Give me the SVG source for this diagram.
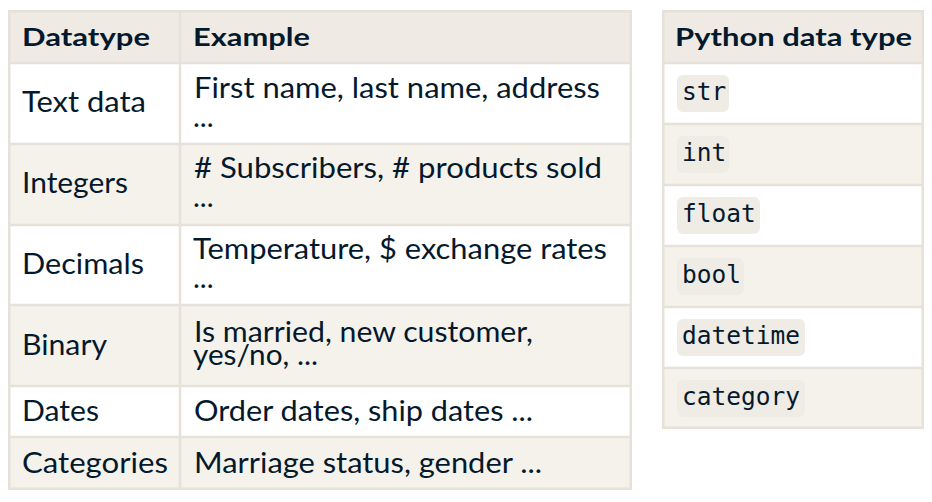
<svg xmlns="http://www.w3.org/2000/svg" width="932" height="502" viewBox="0 0 932 502">
<style>
.bg{fill:#ffffff}
.hd{fill:#efebe4}
.alt{fill:#f5f2ec}
.wh{fill:#ffffff}
.ln{stroke:#e6e2da;stroke-width:2.5;fill:none}
.th{font-family:Lato,"Liberation Sans",sans-serif;font-weight:700;font-size:25px;fill:#05192d}
.td{font-family:Lato,"Liberation Sans",sans-serif;font-weight:400;font-size:29px;fill:#05192d}
.chip{fill:#efebe5}
.code{font-family:"DejaVu Sans Mono","Liberation Mono",monospace;font-size:24.5px;fill:#05192d}
</style>
<rect class="bg" x="0" y="0" width="932" height="502"/>

<g id="table-datatypes">
  <g id="header-left">
    <rect class="hd" x="8" y="10" width="624" height="53"/>
    <text class="th" x="22" y="46" textLength="128" lengthAdjust="spacingAndGlyphs">Datatype</text>
    <text class="th" x="193" y="46" textLength="117" lengthAdjust="spacingAndGlyphs">Example</text>
  </g>
  <g id="row-text">
    <rect class="wh" x="8" y="63" width="624" height="81"/>
    <text class="td" x="22" y="112" textLength="124" lengthAdjust="spacingAndGlyphs">Text data</text>
    <text class="td" x="194" y="98" textLength="406" lengthAdjust="spacingAndGlyphs">First name, last name, address</text>
    <text class="td" x="193" y="127">...</text>
  </g>
  <g id="row-integers">
    <rect class="alt" x="8" y="144" width="624" height="81"/>
    <text class="td" x="22" y="193" textLength="106" lengthAdjust="spacingAndGlyphs">Integers</text>
    <text class="td" x="194" y="178" textLength="408" lengthAdjust="spacingAndGlyphs"># Subscribers, # products sold</text>
    <text class="td" x="193" y="207">...</text>
  </g>
  <g id="row-decimals">
    <rect class="wh" x="8" y="225" width="624" height="80"/>
    <text class="td" x="22" y="274" textLength="122" lengthAdjust="spacingAndGlyphs">Decimals</text>
    <text class="td" x="193" y="259" textLength="414" lengthAdjust="spacingAndGlyphs">Temperature, $ exchange rates</text>
    <text class="td" x="193" y="288">...</text>
  </g>
  <g id="row-binary">
    <rect class="alt" x="8" y="305" width="624" height="81"/>
    <text class="td" x="22" y="355" textLength="85" lengthAdjust="spacingAndGlyphs">Binary</text>
    <text class="td" x="194" y="342" textLength="339" lengthAdjust="spacingAndGlyphs">Is married, new customer,</text>
    <text class="td" x="193" y="365" textLength="125" lengthAdjust="spacingAndGlyphs">yes/no, ...</text>
  </g>
  <g id="row-dates">
    <rect class="wh" x="8" y="386" width="624" height="51"/>
    <text class="td" x="22" y="421" textLength="77" lengthAdjust="spacingAndGlyphs">Dates</text>
    <text class="td" x="194" y="421" textLength="339" lengthAdjust="spacingAndGlyphs">Order dates, ship dates ...</text>
  </g>
  <g id="row-categories">
    <rect class="alt" x="8" y="437" width="624" height="53"/>
    <text class="td" x="22" y="473" textLength="146" lengthAdjust="spacingAndGlyphs">Categories</text>
    <text class="td" x="194" y="473" textLength="348" lengthAdjust="spacingAndGlyphs">Marriage status, gender ...</text>
  </g>
  <g id="grid-left">
    <rect class="ln" x="9.25" y="11.25" width="621.5" height="477.5"/>
    <line class="ln" x1="180" y1="11" x2="180" y2="489"/>
    <line class="ln" x1="9" y1="63" x2="631" y2="63"/>
    <line class="ln" x1="9" y1="144" x2="631" y2="144"/>
    <line class="ln" x1="9" y1="225" x2="631" y2="225"/>
    <line class="ln" x1="9" y1="305" x2="631" y2="305"/>
    <line class="ln" x1="9" y1="386" x2="631" y2="386"/>
    <line class="ln" x1="9" y1="437" x2="631" y2="437"/>
  </g>
</g>

<g id="table-python">
  <g id="header-right">
    <rect class="hd" x="662" y="10" width="262" height="53"/>
    <text class="th" x="675" y="46" textLength="237" lengthAdjust="spacingAndGlyphs">Python data type</text>
  </g>
  <g id="row-str">
    <rect class="wh" x="662" y="63" width="262" height="61"/>
    <rect class="chip" x="677" y="75" width="52" height="37" rx="6"/>
    <text class="code" x="682" y="100">str</text>
  </g>
  <g id="row-int">
    <rect class="alt" x="662" y="124" width="262" height="61"/>
    <rect class="chip" x="677" y="136" width="52" height="37" rx="6"/>
    <text class="code" x="682" y="161">int</text>
  </g>
  <g id="row-float">
    <rect class="wh" x="662" y="185" width="262" height="61"/>
    <rect class="chip" x="677" y="197" width="83" height="37" rx="6"/>
    <text class="code" x="682" y="222">float</text>
  </g>
  <g id="row-bool">
    <rect class="alt" x="662" y="246" width="262" height="61"/>
    <rect class="chip" x="677" y="258" width="67" height="37" rx="6"/>
    <text class="code" x="682" y="283">bool</text>
  </g>
  <g id="row-datetime">
    <rect class="wh" x="662" y="307" width="262" height="61"/>
    <rect class="chip" x="677" y="319" width="128" height="37" rx="6"/>
    <text class="code" x="682" y="344">datetime</text>
  </g>
  <g id="row-category">
    <rect class="alt" x="662" y="368" width="262" height="61"/>
    <rect class="chip" x="677" y="380" width="128" height="37" rx="6"/>
    <text class="code" x="682" y="405">category</text>
  </g>
  <g id="grid-right">
    <rect class="ln" x="663.25" y="11.25" width="259.5" height="416.5"/>
    <line class="ln" x1="663" y1="63" x2="923" y2="63"/>
    <line class="ln" x1="663" y1="124" x2="923" y2="124"/>
    <line class="ln" x1="663" y1="185" x2="923" y2="185"/>
    <line class="ln" x1="663" y1="246" x2="923" y2="246"/>
    <line class="ln" x1="663" y1="307" x2="923" y2="307"/>
    <line class="ln" x1="663" y1="368" x2="923" y2="368"/>
  </g>
</g>
</svg>
